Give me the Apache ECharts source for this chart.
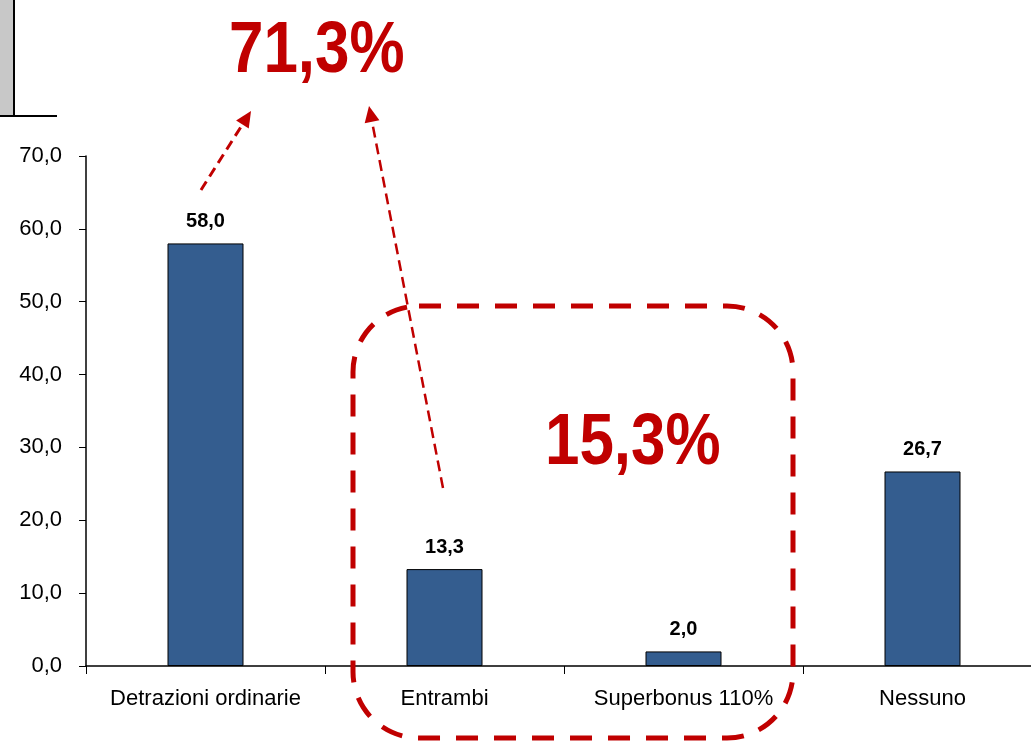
<!DOCTYPE html>
<html><head><meta charset="utf-8">
<script src="https://cdn.jsdelivr.net/npm/echarts@6/dist/echarts.min.js"></script>
<style>html,body{margin:0;padding:0;background:#fff}#c{width:1031px;height:742px}</style>
</head><body><div id="c"></div>
<script>
var categories = ['Detrazioni ordinarie', 'Entrambi', 'Superbonus 110%', 'Nessuno'];
var values = [58.0, 13.3, 2.0, 26.7];
var yTicks = [0, 10, 20, 30, 40, 50, 60, 70];
var bigLabels = ['71,3%', '15,3%'];

var RED = '#c00000';
var SANS = '"Liberation Sans",Arial,sans-serif';

function arrow(x1, y1, x2, y2, w, dash) {
  var dx = x2 - x1, dy = y2 - y1, L = Math.sqrt(dx*dx + dy*dy);
  var ux = dx / L, uy = dy / L, hl = 16, hw = 7.5;
  var bx = x2 - ux * hl, by = y2 - uy * hl;
  return [
    { type: 'line', shape: { x1: x1, y1: y1, x2: bx, y2: by },
      style: { stroke: RED, lineWidth: w, lineDash: dash } },
    { type: 'polygon', shape: { points: [[x2, y2], [bx - uy * hw, by + ux * hw], [bx + uy * hw, by - ux * hw]] },
      style: { fill: RED } }
  ];
}

function fmt(v) { return v.toFixed(1).replace('.', ','); }

var chart = echarts.init(document.getElementById('c'));
var graphics = [
  { type: 'rect', shape: { x: 0, y: 0, width: 14, height: 116 }, style: { fill: '#c8c8c8' } },
  { type: 'line', shape: { x1: 14, y1: 0, x2: 14, y2: 116 }, style: { stroke: '#000', lineWidth: 2 } },
  { type: 'line', shape: { x1: 0, y1: 116, x2: 57, y2: 116 }, style: { stroke: '#000', lineWidth: 2 } },
  { type: 'rect', shape: { x: 353, y: 306, width: 440, height: 432, r: 66 },
    style: { fill: 'none', stroke: RED, lineWidth: 5, lineDash: [22, 16] }, z: 10 },
  { type: 'text', x: 229, y: 52, scaleX: 0.86,
    style: { text: bigLabels[0], fill: RED, font: 'bold 72px ' + SANS, textAlign: 'left', textVerticalAlign: 'middle' } },
  { type: 'text', x: 545, y: 444, scaleX: 0.86,
    style: { text: bigLabels[1], fill: RED, font: 'bold 72px ' + SANS, textAlign: 'left', textVerticalAlign: 'middle' } }
].concat(arrow(201, 190, 251, 111, 3, [10, 6])).concat(arrow(443, 488, 369, 106, 2.5, [11, 6]));

chart.setOption({
  animation: false,
  grid: { left: 86, top: 156, width: 956, height: 510, containLabel: false, outerBoundsMode: 'none' },
  xAxis: {
    type: 'category', data: categories,
    axisLine: { lineStyle: { color: '#000', width: 1.5 } },
    axisTick: { show: true, length: 8, lineStyle: { color: '#000' } },
    axisLabel: { color: '#000', fontFamily: SANS, fontSize: 22, margin: 22, interval: 0, hideOverlap: false }
  },
  yAxis: {
    type: 'value', min: 0, max: 70, interval: 10,
    axisLine: { show: true, lineStyle: { color: '#000', width: 1.5 } },
    axisTick: { show: true, length: 7, lineStyle: { color: '#000' } },
    splitLine: { show: false },
    axisLabel: { color: '#000', fontFamily: SANS, fontSize: 22, margin: 24, formatter: fmt }
  },
  series: [{
    type: 'bar', data: values, barWidth: 76,
    itemStyle: { color: '#345d8f', borderColor: '#000', borderWidth: 1 },
    label: { show: true, position: 'top', distance: 12, color: '#000',
      fontFamily: SANS, fontWeight: 'bold', fontSize: 20,
      formatter: function (p) { return fmt(p.value); } }
  }],
  graphic: graphics
});
</script></body></html>
